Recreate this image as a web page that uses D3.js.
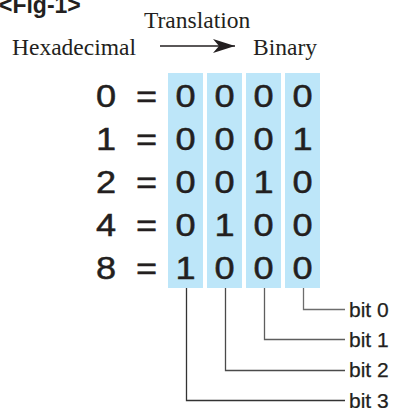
<!DOCTYPE html>
<html><head><meta charset="utf-8">
<script src="https://cdn.jsdelivr.net/npm/d3@7/dist/d3.min.js"></script>
<style>
html,body{margin:0;padding:0;background:#fff;}
svg{display:block;}
</style></head>
<body>
<script>
const hexValues = ["0", "1", "2", "4", "8"];
const bitPositions = [3, 2, 1, 0];
const binaryRows = [
  ["0", "0", "0", "0"],
  ["0", "0", "0", "1"],
  ["0", "0", "1", "0"],
  ["0", "1", "0", "0"],
  ["1", "0", "0", "0"]
];
const bitLabels = ["bit 0", "bit 1", "bit 2", "bit 3"];
const titleText = "<Fig-1>";
const headerLeft = "Hexadecimal";
const headerMid = "Translation";
const headerRight = "Binary";

const W = 394, H = 408;
const ink = "#231f20";
const svg = d3.select("body").append("svg").attr("width", W).attr("height", H);

const defs = svg.append("defs");
defs.append("marker").attr("id", "arr").attr("viewBox", "0 0 22 14")
  .attr("refX", 22).attr("refY", 7).attr("markerWidth", 22).attr("markerHeight", 14)
  .attr("markerUnits", "userSpaceOnUse").attr("orient", "auto")
  .append("path").attr("d", "M0,0 L22,7 L0,14 L6,7 Z").attr("fill", ink);

// title
svg.append("text").attr("x", -1).attr("y", 12.5).text(titleText)
  .attr("font-family", "Liberation Sans, Arial, sans-serif").attr("font-weight", "bold")
  .attr("font-size", 23).attr("fill", ink);

// headers
const serif = "Liberation Serif, Times New Roman, serif";
svg.append("text").attr("x", 12).attr("y", 54.5).text(headerLeft)
  .attr("font-family", serif).attr("font-size", 23.5).attr("fill", ink);
svg.append("text").attr("x", 144).attr("y", 28).text(headerMid)
  .attr("font-family", serif).attr("font-size", 23.5).attr("fill", ink);
svg.append("text").attr("x", 253).attr("y", 54.5).text(headerRight)
  .attr("font-family", serif).attr("font-size", 23.5).attr("fill", ink);
svg.append("line").attr("x1", 160).attr("x2", 235).attr("y1", 46).attr("y2", 46)
  .attr("stroke", ink).attr("stroke-width", 1.6).attr("marker-end", "url(#arr)");

// scales
const x = d3.scaleBand().domain(bitPositions).range([168, 320]).paddingInner(4 / 39).paddingOuter(0);
const y = d3.scalePoint().domain(d3.range(hexValues.length)).range([95, 267]);
const yBit = d3.scalePoint().domain(bitLabels).range([309, 400]);

const colTop = 73, colBottom = 288;

// columns
svg.append("g").selectAll("rect").data(bitPositions).join("rect")
  .attr("x", d => x(d)).attr("width", x.bandwidth())
  .attr("y", colTop).attr("height", colBottom - colTop)
  .attr("fill", "#bde6f9");

const sans = "Liberation Sans, Arial, Helvetica, sans-serif";
const fs = 32, capOff = 11.5, sx = 1.13;

function digit(g, cx, cy, t) {
  g.append("text").attr("transform", `translate(${cx},${cy + capOff}) scale(${sx},1)`)
    .attr("text-anchor", "middle").attr("font-family", sans).attr("font-size", fs)
    .attr("fill", ink).attr("stroke", ink).attr("stroke-width", 0.5).text(t);
}

const rows = svg.append("g");
hexValues.forEach((h, i) => {
  digit(rows, 106, y(i), h);
  digit(rows, 146.5, y(i), "=");
  binaryRows[i].forEach((b, j) => {
    digit(rows, x(bitPositions[j]) + x.bandwidth() / 2, y(i), b);
  });
});

// leader lines
const lineColors = {"bit 0": "#6d6d6d", "bit 1": "#5e5e5e", "bit 2": "#4a4a4a", "bit 3": "#333"};
const lead = svg.append("g");
bitLabels.forEach((lbl, k) => {
  const cx = Math.round(x(k) + x.bandwidth() / 2) + 0.5;
  const ly = Math.round(yBit(lbl)) + 0.5;
  lead.append("path").attr("d", `M${cx},${colBottom} V${ly} H345`)
    .attr("fill", "none").attr("stroke", lineColors[lbl]).attr("stroke-width", 1.3);
  lead.append("text").attr("x", 349).attr("y", yBit(lbl) + 7.5)
    .attr("font-family", sans).attr("font-size", 21).attr("fill", ink)
    .attr("stroke", ink).attr("stroke-width", 0.25).text(lbl);
});
</script>
</body></html>
